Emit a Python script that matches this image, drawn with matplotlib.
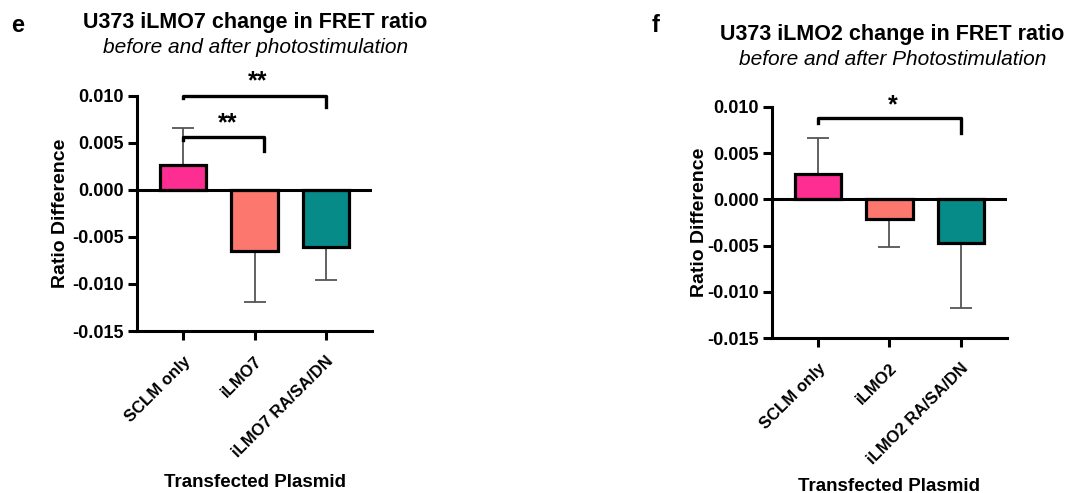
import numpy as np
import matplotlib
matplotlib.use('Agg')
import matplotlib.pyplot as plt

plt.rcParams['font.family'] = ['Liberation Sans', 'DejaVu Sans']

# panel e
labels_e = ['SCLM only', 'iLMO7', 'iLMO7 RA/SA/DN']
means_e = [0.0027, -0.0065, -0.0061]
sd_e = [0.0039, 0.0054, 0.0035]

# panel f
labels_f = ['SCLM only', 'iLMO2', 'iLMO2 RA/SA/DN']
means_f = [0.0027, -0.0021, -0.0047]
sd_f = [0.0039, 0.0030, 0.0071]

colors = ['#fd2d92', '#fc776d', '#068b89']

W, H = 1078, 493
fig = plt.figure(figsize=(W / 100, H / 100), dpi=100)
ax1 = fig.add_axes([0.1271, 0.3286, 0.218, 0.4767])
ax2 = fig.add_axes([0.7161, 0.3144, 0.218, 0.4686])


def draw_panel(ax, labels, means, sd):
    x = np.arange(len(labels))
    # one-sided error bars, drawn under the bars
    lo = [0 if m >= 0 else s for m, s in zip(means, sd)]
    hi = [s if m >= 0 else 0 for m, s in zip(means, sd)]
    ax.errorbar(x, means, yerr=[lo, hi], fmt='none', ecolor='#555555',
                elinewidth=1.3, capsize=8, capthick=1.3, zorder=1)
    ax.bar(x, means, width=0.65, color=colors, edgecolor='black',
           linewidth=2.3, zorder=2)
    ax.axhline(0, color='black', lw=2.2, zorder=3)
    ax.set_xlim(-0.65, 2.65)
    ax.set_ylim(-0.015, 0.010)
    ax.set_yticks([-0.015, -0.010, -0.005, 0.0, 0.005, 0.010])
    ax.set_yticklabels(['-0.015', '-0.010', '-0.005', '0.000', '0.005', '0.010'],
                       fontweight='bold', fontsize=13)
    ax.set_xticks(x)
    ax.set_xticklabels(labels, rotation=45, ha='right', va='top',
                       rotation_mode='anchor', fontweight='bold', fontsize=12)
    for s in ['top', 'right']:
        ax.spines[s].set_visible(False)
    for s in ['left', 'bottom']:
        ax.spines[s].set_linewidth(2.2)
    ax.tick_params(axis='both', width=2.2, length=6.5, pad=3)
    ax.tick_params(axis='x', pad=10)
    ax.set_ylabel('Ratio Difference', fontweight='bold', fontsize=14)
    ax.set_xlabel('Transfected Plasmid', fontweight='bold', fontsize=13.5, va='center')


def bracket(ax, x0, x1, y, y0, y1, text, ty):
    ax.plot([x0, x0, x1, x1], [y0, y, y, y1], color='black', lw=2.4,
            clip_on=False, zorder=4)
    ax.text((x0 + x1) / 2 + 0.05, ty, text, ha='center', va='center',
            fontsize=18, fontweight='bold', clip_on=False)


draw_panel(ax1, labels_e, means_e, sd_e)
draw_panel(ax2, labels_f, means_f, sd_f)

ax1.yaxis.set_label_coords(-0.289, 0.5)
ax1.xaxis.set_label_coords(0.5, -0.645)
ax2.yaxis.set_label_coords(-0.273, 0.5)
ax2.xaxis.set_label_coords(0.5, -0.643)

bracket(ax1, 0, 2, 0.0100, 0.0098, 0.0088, '**', 0.0116)
bracket(ax1, 0, 1.14, 0.0056, 0.0053, 0.0041, '**', 0.0071)
bracket(ax2, 0, 2, 0.0088, 0.0083, 0.0072, '*', 0.0102)

fig.text(18 / W, 1 - 32 / H, 'e', fontsize=17, fontweight='bold', ha='center', va='baseline')
fig.text(656 / W, 1 - 32 / H, 'f', fontsize=17, fontweight='bold', ha='center', va='baseline')

fig.text(255 / W, 1 - 28 / H, 'U373 iLMO7 change in FRET ratio',
         fontsize=15.5, fontweight='bold', ha='center', va='baseline')
fig.text(256 / W, 1 - 53 / H, 'before and after photostimulation',
         fontsize=15, style='italic', ha='center', va='baseline')
fig.text(892 / W, 1 - 40 / H, 'U373 iLMO2 change in FRET ratio',
         fontsize=15.5, fontweight='bold', ha='center', va='baseline')
fig.text(893 / W, 1 - 65 / H, 'before and after Photostimulation',
         fontsize=15, style='italic', ha='center', va='baseline')

fig.savefig('out.png', dpi=100)
